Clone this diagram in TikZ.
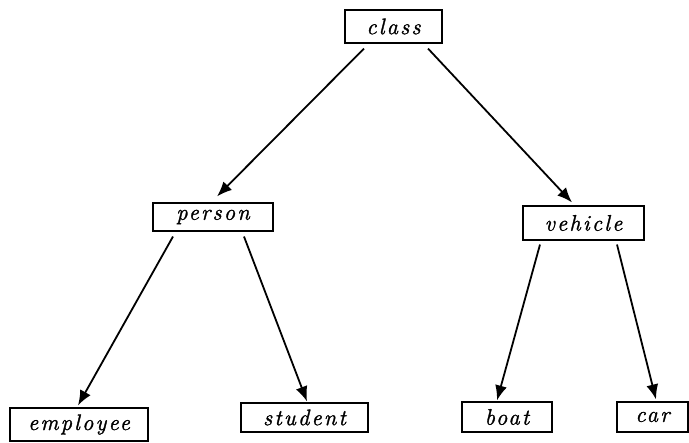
\documentclass[tikz,border=0pt]{standalone}
\usepackage{fontspec}
\newfontfamily\lblfont{Latin Modern Roman}[LetterSpace=10,FakeBold=1.4]
\usetikzlibrary{arrows.meta}
\tikzset{
  cls/.style={draw, line width=1.1pt, inner sep=0pt, align=center,
    font=\lblfont\fontsize{22.5}{27}\selectfont\itshape},
  isa/.style={line width=1.8pt, -{Latex[length=15pt,width=12pt]}}
}
\begin{document}
\begin{tikzpicture}[x=1pt,y=-1pt]
\useasboundingbox (0,0) rectangle (689,443);
% class hierarchy boxes
\node[cls, minimum width=97pt, minimum height=33pt]  (class)    at (393.5,26.5) {class};
\node[cls, minimum width=120pt, minimum height=28pt] (person)   at (213,217)    {person};
\node[cls, minimum width=121pt, minimum height=34pt] (vehicle)  at (583.5,223)  {vehicle};
\node[cls, minimum width=138pt, minimum height=33pt] (employee) at (79,424.5)   {employee};
\node[cls, minimum width=127pt, minimum height=29pt] (student)  at (304.5,417.5){student};
\node[cls, minimum width=90pt, minimum height=30pt]  (boat)     at (507,417)    {boat};
\node[cls, minimum width=71pt, minimum height=30pt]  (car)      at (652.5,417)  {car};
% subclass links
\draw[isa] ([xshift=-29.5pt,yshift=-5pt]class.south) -- ([xshift=4pt,yshift=6pt]person.north);
\draw[isa] ([xshift=34.5pt,yshift=-5pt]class.south) -- ([xshift=-11.5pt,yshift=3pt]vehicle.north);
\draw[isa] ([xshift=-40pt,yshift=-5pt]person.south) -- ([xshift=-1pt,yshift=2pt]employee.north);
\draw[isa] ([xshift=31pt,yshift=-5pt]person.south) -- ([xshift=2.5pt,yshift=1pt]student.north);
\draw[isa] ([xshift=-43.5pt,yshift=-4pt]vehicle.south) -- ([xshift=-10pt,yshift=1pt]boat.north);
\draw[isa] ([xshift=33.5pt,yshift=-4pt]vehicle.south) -- ([xshift=3.5pt,yshift=2pt]car.north);
\end{tikzpicture}
\end{document}
